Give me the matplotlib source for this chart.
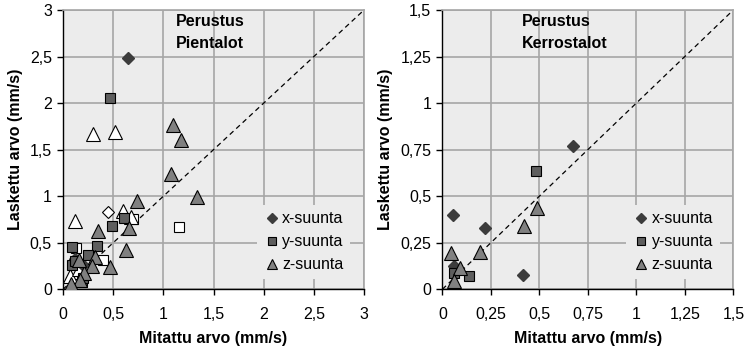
import matplotlib.pyplot as plt

plt.rcParams['font.family'] = ['Liberation Sans', 'DejaVu Sans']

# Pientalot (left) - filled = legend series, open = second data set
pien_x_x = [0.65, 0.12, 0.20]
pien_x_y = [2.48, 0.32, 0.26]
pien_y_x = [0.47, 0.49, 0.61, 0.34, 0.09, 0.25, 0.09, 0.19, 0.12, 0.20]
pien_y_y = [2.05, 0.68, 0.77, 0.46, 0.45, 0.37, 0.26, 0.08, 0.30, 0.12]
pien_z_x = [1.10, 1.18, 1.08, 1.34, 0.74, 0.66, 0.35, 0.63, 0.47, 0.32, 0.29, 0.21, 0.17, 0.08, 0.16]
pien_z_y = [1.77, 1.60, 1.24, 0.99, 0.95, 0.66, 0.63, 0.42, 0.24, 0.35, 0.25, 0.17, 0.10, 0.06, 0.31]
pien_xo_x = [0.45, 0.14]
pien_xo_y = [0.83, 0.28]
pien_yo_x = [0.13, 0.40, 0.70, 1.16]
pien_yo_y = [0.44, 0.31, 0.75, 0.67]
pien_zo_x = [0.30, 0.52, 0.12, 0.60, 0.68, 0.155, 0.07, 0.16]
pien_zo_y = [1.67, 1.69, 0.73, 0.84, 0.78, 0.19, 0.14, 0.22]

# Kerrostalot (right)
ker_x_x = [0.675, 0.054, 0.22, 0.414, 0.06]
ker_x_y = [0.77, 0.40, 0.33, 0.075, 0.125]
ker_y_x = [0.483, 0.062, 0.139]
ker_y_y = [0.634, 0.085, 0.07]
ker_z_x = [0.487, 0.42, 0.194, 0.045, 0.091, 0.06]
ker_z_y = [0.435, 0.34, 0.20, 0.196, 0.116, 0.045]

left_ticks = [0, 0.5, 1, 1.5, 2, 2.5, 3]
left_labels = ['0', '0,5', '1', '1,5', '2', '2,5', '3']
right_ticks = [0, 0.25, 0.5, 0.75, 1, 1.25, 1.5]
right_labels = ['0', '0,25', '0,5', '0,75', '1', '1,25', '1,5']

fig = plt.figure(figsize=(7.46, 3.48), dpi=100)
ax1 = fig.add_axes([0.0845, 0.1687, 0.4035, 0.8026])
ax2 = fig.add_axes([0.593, 0.1687, 0.390, 0.8026])

dia_c = '#3c3c3c'
sq_c = '#5e5e5e'
tri_c = '#808080'


def style(ax, ticks, labels, title, tx):
    lim = ticks[-1]
    ax.set_facecolor('#ececec')
    ax.set_xlim(0, lim)
    ax.set_ylim(0, lim)
    ax.set_xticks(ticks)
    ax.set_yticks(ticks)
    ax.set_xticklabels(labels)
    ax.set_yticklabels(labels)
    ax.grid(True, color='#a6a6a6', linewidth=1.2, zorder=0)
    ax.set_axisbelow(True)
    for s in ['top', 'right']:
        ax.spines[s].set_color('#a6a6a6')
        ax.spines[s].set_linewidth(1.2)
    for s in ['left', 'bottom']:
        ax.spines[s].set_color('black')
        ax.spines[s].set_linewidth(1.0)
    ax.tick_params(direction='out', length=4, width=1, labelsize=11.5, pad=4)
    ax.tick_params(axis='x', pad=9)
    ax.plot([0, lim], [0, lim], linestyle=(0, (4, 3)), color='black',
            linewidth=0.9, zorder=2)
    ax.set_xlabel('Mitattu arvo (mm/s)', fontsize=11.5, fontweight='bold', labelpad=6)
    ax.set_ylabel('Laskettu arvo (mm/s)', fontsize=11.5, fontweight='bold', labelpad=5)
    ax.text(tx, 0.985, title, transform=ax.transAxes, fontsize=11.5,
            fontweight='bold', va='top', ha='left', linespacing=1.6)


style(ax1, left_ticks, left_labels, 'Perustus\nPientalot', 0.375)
style(ax2, right_ticks, right_labels, 'Perustus\nKerrostalot', 0.273)

kw = dict(markeredgecolor='black', markeredgewidth=0.8, linestyle='none', zorder=3)
# open markers of the left panel
ax1.plot(pien_xo_x, pien_xo_y, 'D', markersize=6.5, markerfacecolor='white', **kw)
ax1.plot(pien_yo_x, pien_yo_y, 's', markersize=7.5, markerfacecolor='white', **kw)
ax1.plot(pien_zo_x, pien_zo_y, '^', markersize=9.5, markerfacecolor='white', **kw)

for ax, xs in [(ax1, (pien_x_x, pien_x_y, pien_y_x, pien_y_y, pien_z_x, pien_z_y)),
               (ax2, (ker_x_x, ker_x_y, ker_y_x, ker_y_y, ker_z_x, ker_z_y))]:
    ax.plot(xs[0], xs[1], 'D', markersize=6.5, color=dia_c, markeredgecolor=dia_c,
            linestyle='none', zorder=3, label='x-suunta')
    ax.plot(xs[2], xs[3], 's', markersize=7.5, markerfacecolor=sq_c, label='y-suunta', **kw)
    ax.plot(xs[4], xs[5], '^', markersize=9.5, markerfacecolor=tri_c, label='z-suunta', **kw)
    leg = ax.legend(loc='lower right', bbox_to_anchor=(0.98, 0.01), frameon=True,
                    fontsize=11.5, handletextpad=0.1, handlelength=1.1,
                    borderpad=0.4, labelspacing=0.5, markerscale=0.75)
    leg.get_frame().set_facecolor('#ececec')
    leg.get_frame().set_edgecolor('none')
    leg.get_frame().set_alpha(1)
    leg.get_frame().set_boxstyle('square', pad=0)

fig.savefig('out.png', dpi=100)
